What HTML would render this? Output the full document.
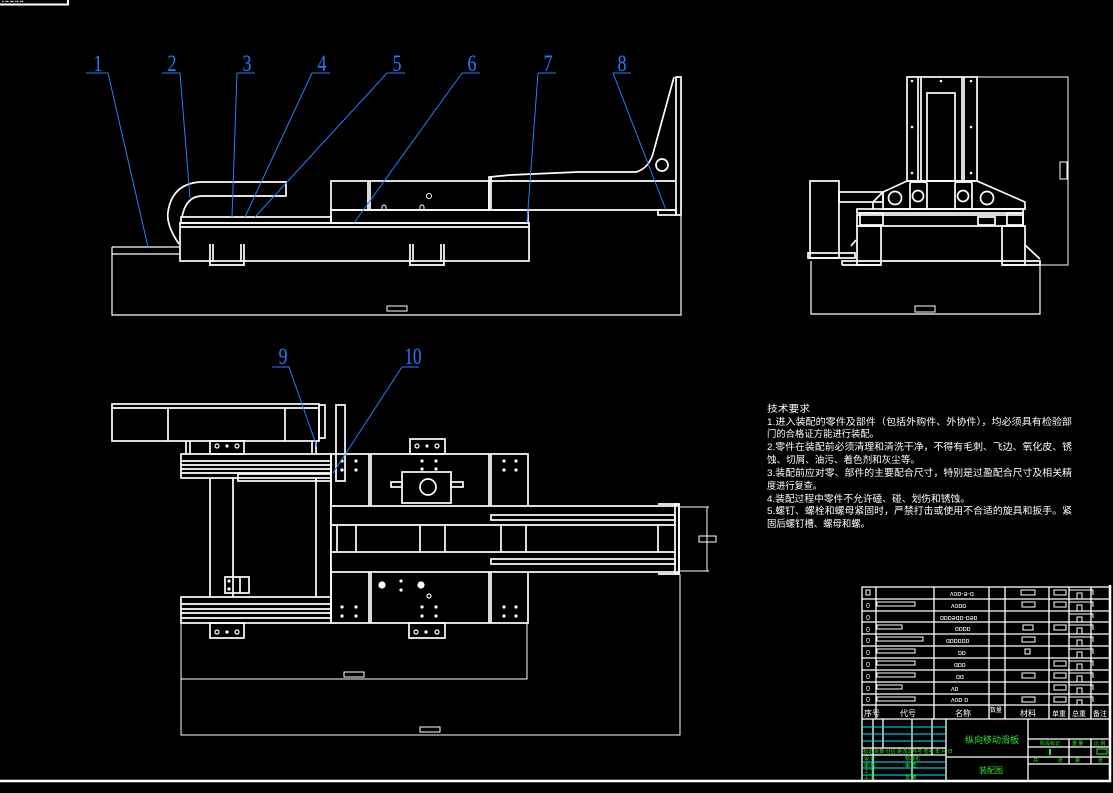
<!DOCTYPE html>
<html><head><meta charset="utf-8"><style>
html,body{margin:0;padding:0;background:#000;}
svg{display:block;}
text{font-family:"Liberation Sans","Noto Sans CJK SC",sans-serif;}
text.n{font-family:"Liberation Serif",serif;}
</style></head><body>
<svg width="1113" height="793" viewBox="0 0 1113 793" xmlns="http://www.w3.org/2000/svg">
<rect width="1113" height="793" fill="#000"/>
<!-- frame -->
<g stroke="#fff" fill="none">
<path d="M0 4.5 H68 V0" stroke-width="2"/>
<path d="M0 781 H1110 V585" stroke-width="2.5"/>
</g>
<g fill="#fff" font-size="5"><text x="2" y="3">▪ ▪▪ ▪▪ ▪▪ ▪▪</text></g>

<!-- ============ FRONT VIEW (top-left) ============ -->
<g stroke="#fff" fill="none" stroke-width="1.7">
<path d="M112 247 H180 M112 254 H180 M112 247 V315 H681 V216" stroke-width="1.2"/>
<rect x="387" y="306" width="20" height="5" stroke-width="1"/>
<rect x="180" y="223" width="349" height="38"/>
<line x1="180" y1="227" x2="529" y2="227"/>
<path d="M210 244 V265 H244 V244 M213 244 V262 M241 244 V262"/>
<path d="M410 244 V265 H444 V244 M413 244 V262 M441 244 V262"/>
<rect x="181" y="217" width="150" height="6"/>
<rect x="331" y="181" width="158" height="29"/>
<line x1="368" y1="181" x2="368" y2="210"/><line x1="370" y1="181" x2="370" y2="210"/>
<rect x="331" y="210" width="197" height="13"/>
<circle cx="429" cy="196" r="2.5" stroke-width="1"/>
<path d="M382 210 v-3 a2 2 0 0 1 4 0 v3 M420 210 v-3 a2 2 0 0 1 4 0 v3" stroke-width="1"/>
<path d="M489 210 V177 L510 175 L578 172 L636 172 Q650 168 654 150 L674 77"/>
<line x1="489" y1="181" x2="676" y2="181"/>
<line x1="489" y1="210" x2="676" y2="210"/>
<line x1="491" y1="177" x2="491" y2="210"/>
<rect x="676" y="77" width="5" height="138"/>
<circle cx="662" cy="165" r="6"/>
<rect x="658" y="210" width="18" height="5"/>
<path d="M179 244 Q166 225 168 212 Q172 184 200 182 H286 V196 H202 Q186 196 182 217"/>
</g>
<g stroke="#2a7bff" stroke-width="1" fill="none">
<path d="M86 73 H108 L148 247"/>
<path d="M162 73 H180 L190 198"/>
<path d="M237 73 H255 M237 73 L232 217"/>
<path d="M312 73 H330 M312 73 L245 217"/>
<path d="M387 73 H405 M387 73 L255 217"/>
<path d="M462 73 H480 M462 73 L354 223"/>
<path d="M538 73 H556 M538 73 L527 223"/>
<path d="M613 73 H631 M613 73 L666 210"/>
</g>
<g fill="#2a7bff" font-size="23" text-anchor="middle">
<text class="n" x="98" y="71" textLength="9" lengthAdjust="spacingAndGlyphs">1</text>
<text class="n" x="172" y="71" textLength="9" lengthAdjust="spacingAndGlyphs">2</text>
<text class="n" x="247" y="71" textLength="9" lengthAdjust="spacingAndGlyphs">3</text>
<text class="n" x="322" y="71" textLength="9" lengthAdjust="spacingAndGlyphs">4</text>
<text class="n" x="397" y="71" textLength="9" lengthAdjust="spacingAndGlyphs">5</text>
<text class="n" x="472" y="71" textLength="9" lengthAdjust="spacingAndGlyphs">6</text>
<text class="n" x="548" y="71" textLength="9" lengthAdjust="spacingAndGlyphs">7</text>
<text class="n" x="622" y="71" textLength="9" lengthAdjust="spacingAndGlyphs">8</text>
<text class="n" x="283" y="364" textLength="9" lengthAdjust="spacingAndGlyphs">9</text>
<text class="n" x="413" y="364" textLength="17" lengthAdjust="spacingAndGlyphs">10</text>
</g>

<!-- ============ SIDE VIEW ============ -->
<g stroke="#fff" fill="none" stroke-width="1.7">
<rect x="907" y="77" width="70" height="104"/>
<path d="M918 77 V181 M921 77 V181 M962 77 V181 M964 77 V181"/>
<rect x="927" y="93" width="28" height="88"/>
<path d="M907 181 L883 192 V209 H1025 V202 L977 181 Z"/>
<path d="M883 192 L873 202 V209"/>
<circle cx="895" cy="198" r="6.5"/><circle cx="918" cy="196" r="5.5"/>
<circle cx="963" cy="196" r="5.5"/><circle cx="987" cy="198" r="6.5"/>
<rect x="910" y="182" width="17" height="27" rx="2"/>
<rect x="955" y="182" width="17" height="27" rx="2"/>
<rect x="857" y="209" width="166" height="4"/>
<rect x="857" y="215" width="166" height="11"/>
<rect x="860" y="213" width="23" height="12"/><rect x="978" y="217" width="17" height="8"/><rect x="1007" y="213" width="16" height="12"/>
<rect x="857" y="226" width="24" height="39"/><rect x="1002" y="226" width="23" height="39"/>
<path d="M842 265 V261 H1040 V265 M842 265 H881 M1002 265 H1040"/>
<rect x="810" y="181" width="29" height="77"/>
<rect x="839" y="192" width="44" height="10"/>
<rect x="808" y="253" width="47" height="5"/>
<path d="M851 246 L856 240 M1025 245 L1040 259"/>
<path d="M811 261 V314 H1040 V261" stroke-width="1.2"/>
<rect x="915" y="306" width="20" height="6" stroke-width="1"/>
<path d="M977 77 H1068 V265 H1040" stroke-width="1"/>
<rect x="1060" y="162" width="7" height="17" stroke-width="1"/>
</g>
<g fill="#fff">
<circle cx="912" cy="81" r="1.3"/><circle cx="941" cy="81" r="1.3"/><circle cx="971" cy="81" r="1.3"/>
<circle cx="912" cy="127" r="1.3"/><circle cx="971" cy="127" r="1.3"/>
<circle cx="912" cy="173" r="1.3"/><circle cx="971" cy="173" r="1.3"/>
</g>

<!-- ============ TOP VIEW (bottom-left) ============ -->
<g stroke="#fff" fill="none" stroke-width="1.7">
<rect x="112" y="404" width="207" height="37"/>
<path d="M168 408 V441 M285 408 V441 M112 408 H319"/>
<rect x="319" y="405" width="6" height="33"/>
<rect x="336" y="405" width="9" height="76"/>
<rect x="210" y="441" width="34" height="13"/>
<path d="M186 441 V454 M190 441 V454 M312 441 V454 M316 441 V454"/>
<rect x="181" y="454" width="150" height="24"/>
<path d="M181 461 H331 M181 465 H331 M181 469 H331 M181 473 H331"/>
<rect x="238" y="474" width="93" height="7"/>
<path d="M210 478 V597 M233 478 V597 M316 478 V597 M331 454 V623"/>
<rect x="225" y="577" width="24" height="16"/><line x1="240" y1="577" x2="240" y2="593"/>
<rect x="181" y="597" width="150" height="26"/>
<path d="M181 604 H331 M181 609 H331 M181 613 H331 M181 618 H331"/>
<rect x="210" y="623" width="34" height="15"/>
<rect x="409" y="623" width="36" height="15"/>
<rect x="331" y="454" width="197" height="169"/>
<path d="M369 454 V623 M371 454 V623 M489 454 V623 M491 454 V623"/>
<rect x="410" y="439" width="35" height="15"/>
<rect x="402" y="472" width="49" height="31"/>
<circle cx="428" cy="487" r="8"/>
<rect x="391" y="482" width="11" height="5"/><rect x="451" y="482" width="12" height="5"/>
<rect x="331" y="506" width="348" height="66" fill="#000"/>
<path d="M331 525 H676 M331 552 H676"/>
<rect x="491" y="515" width="184" height="5"/><rect x="491" y="559" width="184" height="5"/>
<path d="M337 525 V552 M356 525 V552 M420 525 V552 M445 525 V552 M501 525 V552 M526 525 V552 M658 525 V552"/>
<rect x="675" y="504" width="4" height="70"/>
<path d="M658 504 H679 M658 574 H679"/>
<path d="M679 507 H709 M679 571 H709 M707 507 V571" stroke-width="1"/>
<rect x="699" y="536" width="17" height="6" stroke-width="1"/>
<path d="M181 623 V735 H680 V574 M181 679 H527 V623" stroke-width="1"/>
<rect x="344" y="672" width="20" height="5" stroke-width="1"/>
<rect x="420" y="727" width="20" height="5" stroke-width="1"/>
</g>
<g fill="#fff" stroke="#fff" stroke-width="1.2">
<circle cx="217" cy="446" r="2" fill="none"/><circle cx="227" cy="446" r="1"/><circle cx="237" cy="446" r="2" fill="none"/>
<circle cx="417" cy="446" r="2" fill="none"/><circle cx="427" cy="446" r="1"/><circle cx="437" cy="446" r="2" fill="none"/>
<circle cx="217" cy="632" r="2" fill="none"/><circle cx="227" cy="632" r="1"/><circle cx="237" cy="632" r="2" fill="none"/>
<circle cx="416" cy="632" r="2" fill="none"/><circle cx="426" cy="632" r="1"/><circle cx="437" cy="632" r="2" fill="none"/>
<circle cx="356" cy="461" r="1"/><circle cx="356" cy="470" r="1"/>
<circle cx="422" cy="461" r="1"/><circle cx="436" cy="461" r="1"/><circle cx="422" cy="469" r="1"/><circle cx="436" cy="469" r="1"/>
<circle cx="504" cy="461" r="1"/><circle cx="516" cy="461" r="1"/><circle cx="504" cy="470" r="1"/><circle cx="516" cy="470" r="1"/>
<circle cx="382" cy="585" r="3"/><circle cx="421" cy="585" r="3"/><circle cx="401" cy="581" r="1"/><circle cx="401" cy="590" r="1"/>
<circle cx="429" cy="596" r="2" fill="none"/>
<circle cx="422" cy="607" r="1"/><circle cx="436" cy="607" r="1"/><circle cx="422" cy="616" r="1"/><circle cx="436" cy="616" r="1"/>
<circle cx="342" cy="607" r="1"/><circle cx="356" cy="607" r="1"/><circle cx="342" cy="616" r="1"/><circle cx="356" cy="616" r="1"/>
<circle cx="504" cy="607" r="1"/><circle cx="516" cy="607" r="1"/><circle cx="504" cy="616" r="1"/><circle cx="516" cy="616" r="1"/>
<circle cx="342" cy="461" r="1"/><circle cx="342" cy="470" r="1"/>
<circle cx="229" cy="581" r="1"/><circle cx="229" cy="589" r="1"/>
</g>
<g stroke="#2a7bff" stroke-width="1" fill="none">
<path d="M272 367 H289 L317 447"/>
<path d="M402 367 H419 M402 367 L333 473"/>
</g>

<!-- ============ TECH REQUIREMENTS ============ -->
<g fill="#fff" font-size="9.5">
<text x="767" y="412" textLength="43" lengthAdjust="spacingAndGlyphs">技术要求</text>
<text x="767" y="425" textLength="305" lengthAdjust="spacingAndGlyphs">1.进入装配的零件及部件（包括外购件、外协件），均必须具有检验部</text>
<text x="767" y="437" textLength="112" lengthAdjust="spacingAndGlyphs">门的合格证方能进行装配。</text>
<text x="767" y="450" textLength="305" lengthAdjust="spacingAndGlyphs">2.零件在装配前必须清理和清洗干净，不得有毛刺、飞边、氧化皮、锈</text>
<text x="767" y="463" textLength="153" lengthAdjust="spacingAndGlyphs">蚀、切屑、油污、着色剂和灰尘等。</text>
<text x="767" y="476" textLength="305" lengthAdjust="spacingAndGlyphs">3.装配前应对零、部件的主要配合尺寸，特别是过盈配合尺寸及相关精</text>
<text x="767" y="489" textLength="55" lengthAdjust="spacingAndGlyphs">度进行复查。</text>
<text x="767" y="502" textLength="203" lengthAdjust="spacingAndGlyphs">4.装配过程中零件不允许磕、碰、划伤和锈蚀。</text>
<text x="767" y="514" textLength="305" lengthAdjust="spacingAndGlyphs">5.螺钉、螺栓和螺母紧固时，严禁打击或使用不合适的旋具和扳手。紧</text>
<text x="767" y="527" textLength="103" lengthAdjust="spacingAndGlyphs">固后螺钉槽、螺母和螺。</text>
</g>

<!-- ============ PARTS LIST / TITLE BLOCK ============ -->
<g stroke="#fff" fill="none" stroke-width="1.3">
<rect x="862" y="587" width="248" height="194"/>
<path d="M862 599 H1110 M862 611 H1110 M862 622 H1110 M862 634 H1110 M862 646 H1110 M862 658 H1110 M862 670 H1110 M862 682 H1110 M862 694 H1110 M862 705 H1110 M862 719 H1110"/>
<path d="M876 587 V719 M934 587 V719 M989 587 V719 M1005 587 V719 M1049 587 V719 M1069 587 V719 M1091 587 V719"/>
<path d="M946 719 V781 M1028 719 V781 M946 757 H1110 M1028 739 H1110 M1028 747 H1110 M1028 764 H1110 M1069 739 V764 M1091 739 V764"/>
<path d="M873 719 V781 M883 719 V748 M912 719 V781 M932 719 V755 M862 748 H946 M862 755 H946"/>
</g>
<g stroke="#00e5ff" stroke-width="1"><path d="M862 727 H946 M862 734 H946 M862 741 H946 M862 762 H946 M862 768 H946 M862 775 H946"/></g>
<g stroke="#fff" fill="none" stroke-width="1">
<rect x="866" y="590" width="4" height="5"/><rect x="1021" y="590" width="14" height="5"/><rect x="1054" y="590" width="12" height="5"/>
<rect x="877" y="602" width="38" height="4"/><rect x="1022" y="602" width="13" height="5"/><rect x="1054" y="602" width="12" height="5"/>
<rect x="877" y="625" width="25" height="4"/><rect x="1023" y="625" width="10" height="5"/><rect x="1054" y="625" width="12" height="5"/>
<rect x="877" y="637" width="46" height="4"/><rect x="1022" y="637" width="13" height="5"/>
<rect x="877" y="649" width="38" height="4"/><rect x="1025" y="649" width="5" height="5"/>
<rect x="877" y="661" width="38" height="4"/><rect x="1054" y="661" width="12" height="5"/>
<rect x="877" y="673" width="38" height="4"/><rect x="1022" y="673" width="13" height="5"/><rect x="1054" y="673" width="12" height="5"/>
<rect x="877" y="685" width="25" height="4"/><rect x="1054" y="685" width="12" height="5"/>
<rect x="877" y="697" width="38" height="4"/><rect x="1022" y="697" width="13" height="5"/><rect x="1054" y="697" width="12" height="5"/>
<path d="M1069 590 H1093 V595 M1069 602 H1093 V607 M1069 614 H1093 V618 M1069 625 H1093 V630 M1069 637 H1093 V642 M1069 649 H1093 V654 M1069 661 H1093 V666 M1069 673 H1093 V678 M1069 685 H1093 V690 M1069 697 H1093 V702"/>
<rect x="1077" y="593" width="5" height="6"/><rect x="1077" y="605" width="5" height="6"/><rect x="1077" y="617" width="5" height="5"/><rect x="1077" y="628" width="5" height="6"/><rect x="1077" y="640" width="5" height="6"/><rect x="1077" y="652" width="5" height="6"/><rect x="1077" y="664" width="5" height="6"/><rect x="1077" y="676" width="5" height="6"/><rect x="1077" y="688" width="5" height="6"/><rect x="1077" y="700" width="5" height="5"/>
</g>
<g fill="#fff" font-size="7">
<text x="866" y="608">0</text><text x="866" y="620">0</text><text x="866" y="632">0</text><text x="866" y="643">0</text><text x="866" y="655">0</text><text x="866" y="667">0</text><text x="866" y="679">0</text><text x="866" y="691">0</text><text x="866" y="702">0</text>
<text x="950" y="596">ʌoɒ-ǝ-ɑ</text><text x="951" y="608">ʌoɒɒ</text><text x="940" y="620">ɑɒɒǝɑɒ-ɒǝɒ</text><text x="955" y="631">ɒɒɒɒ</text><text x="946" y="643">ɑɒɒɒɒɒ</text><text x="958" y="655">ɒɒ</text><text x="954" y="667">ɑɒɒ</text><text x="956" y="679">ɑɑ</text><text x="951" y="691">ʌɒ</text><text x="951" y="702">ʌoɒ ɒ</text>
<text x="864" y="716" font-size="8">序号</text><text x="900" y="716" font-size="8">代号</text><text x="955" y="716" font-size="8">名称</text><text x="990" y="712" font-size="6">数量</text><text x="1020" y="716" font-size="8">材料</text><text x="1052" y="716" font-size="7">单重</text><text x="1072" y="716" font-size="7">总重</text><text x="1093" y="716" font-size="7">备注</text>
</g>
<g fill="#22ee22">
<text x="965" y="743" font-size="9">纵向移动滑板</text>
<text x="979" y="773" font-size="8">装配图</text>
<g font-size="5"><text x="863" y="753">标记 处数 分区 更改文件号 签名 年 月 日</text><text x="864" y="760">设 计</text><text x="905" y="760">标准化</text><text x="864" y="767">审 核</text><text x="864" y="773">工 艺</text><text x="905" y="767">审 查</text><text x="864" y="779">工 艺</text><text x="905" y="779">批 准</text>
<text x="1040" y="745">阶段标记</text><text x="1072" y="745">重 量</text><text x="1094" y="745">比 例</text><text x="1033" y="762">共</text><text x="1058" y="762">张</text><text x="1075" y="762">第</text><text x="1098" y="762">张</text></g>
</g>
<g stroke="#22ee22" fill="none" stroke-width="1"><rect x="1097" y="749" width="10" height="5"/><line x1="1050" y1="749" x2="1050" y2="755" stroke-width="2"/></g>
</svg>
</body></html>
